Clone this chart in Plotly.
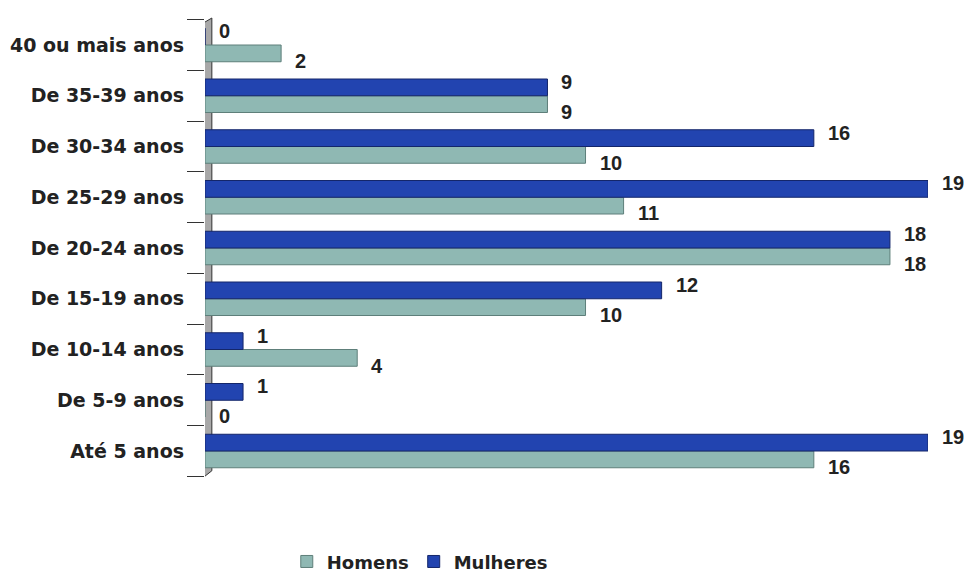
import plotly.graph_objects as go

categories = ["Até 5 anos", "De 5-9 anos", "De 10-14 anos", "De 15-19 anos", "De 20-24 anos",
              "De 25-29 anos", "De 30-34 anos", "De 35-39 anos", "40 ou mais anos"]
homens = [16, 0, 4, 10, 18, 11, 10, 9, 2]
mulheres = [19, 1, 1, 12, 18, 19, 16, 9, 0]

FONT = "Liberation Sans, Arial, sans-serif"
WFONT = "DejaVu Sans, Verdana, sans-serif"
TXT = "#222222"

fig = go.Figure()
fig.add_trace(go.Bar(
    y=categories, x=homens, orientation="h", name="Homens",
    marker=dict(color="#8FB8B3", line=dict(color="#5E7F7A", width=1)),
))
fig.add_trace(go.Bar(
    y=categories, x=mulheres, orientation="h", name="Mulheres",
    marker=dict(color="#2244B0", line=dict(color="#14266A", width=1)),
))

# value labels (Excel-like placement: Mulheres above-right, Homens below-right)
for cat, v in zip(categories, mulheres):
    fig.add_annotation(x=v, y=cat, text=f"<b>{v}</b>", showarrow=False,
                       xanchor="left", yanchor="middle", xshift=12, yshift=14,
                       font=dict(family=FONT, size=20, color=TXT))
for cat, v in zip(categories, homens):
    fig.add_annotation(x=v, y=cat, text=f"<b>{v}</b>", showarrow=False,
                       xanchor="left", yanchor="middle", xshift=12, yshift=-16,
                       font=dict(family=FONT, size=20, color=TXT))

# 3D-style back wall
fig.add_shape(type="path", xref="x", yref="paper",
              path="M -0.13 0 L 0.18 0.02 L 0.18 1.0 L -0.13 0.985 Z",
              fillcolor="#A8A8A8", line=dict(color="#333333", width=1), layer="below")

fig.update_layout(
    width=965, height=576,
    margin=dict(l=205, r=37, t=18, b=96, autoexpand=False),
    paper_bgcolor="white", plot_bgcolor="white",
    barmode="group", bargap=0.34, bargroupgap=0.0,
    font=dict(family=FONT, size=19, color=TXT),
    xaxis=dict(range=[0, 19], visible=False, showgrid=False, zeroline=False),
    yaxis=dict(showgrid=False, ticks="outside", tickson="boundaries", ticklen=17,
               tickcolor="#333333", showline=False,
               tickfont=dict(family=WFONT, size=19, color=TXT, weight="bold"),
               ticklabelstandoff=20),
    legend=dict(orientation="h", xref="container", x=0.435, xanchor="center",
                yref="paper", y=-0.177, yanchor="middle",
                font=dict(family=WFONT, size=18, color=TXT, weight="bold"),
                itemwidth=30, tracegroupgap=0),
    showlegend=True,
)

fig.write_html("out.html")
